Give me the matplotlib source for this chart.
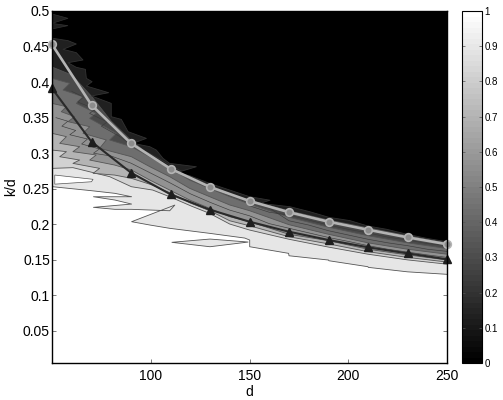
import numpy as np
import matplotlib
matplotlib.use("Agg")
import matplotlib.pyplot as plt
from matplotlib.cm import ScalarMappable
from matplotlib.colors import Normalize

plt.rcParams['font.family'] = ['Liberation Sans', 'DejaVu Sans']

# Measured curves
d_curve = [50, 70, 90, 110, 130, 150, 170, 190, 210, 230, 250]
k_upper = [0.453, 0.3678, 0.3139, 0.2782, 0.2525, 0.2328, 0.2170, 0.2037, 0.1924, 0.1817, 0.172]
k_lower = [0.3912, 0.3162, 0.2726, 0.2422, 0.2205, 0.2037, 0.1896, 0.178, 0.1677, 0.1592, 0.1508]

# Contour levels: each is a path (d, k/d); the surface is darker above it
d_l1 = [50, 70, 81.8, 90.3, 71, 81.8, 90.3, 71, 81.8, 90.3, 109.6, 112.2, 90.3, 99.6, 109.6, 129.9,
        147.6, 150.1, 150.1, 169.8, 170, 190, 190.2, 210, 210.1, 230, 250]
k_l1 = [.2530, .2473, .2436, .2388, .2388, .2342, .2285, .2239, .2211, .2211, .2191, .2271, .2037, .1990,
        .1944, .1873, .1807, .1779, .1685, .1592, .1558, .1498, .1488, .1404, .1395, .1332, .1297]
d_l2 = [50, 60.6, 79.2, 90.2, 101, 109.6, 120.5, 129.8, 140, 150, 170, 190, 210, 230, 250]
k_l2 = [.2787, .2797, .2670, .2529, .2482, .2388, .2257, .2154, .2004, .1920, .1790, .1680, .1580, .1500, .1440]
d_l2b = [50, 57.3, 53.9, 64, 60.6, 74.1, 70.8, 81.7, 90.2, 100, 110, 120, 130, 140, 150, 170, 190, 210, 230, 250]
k_l2b = [.3045, .3022, .2951, .2904, .2857, .2787, .2717, .2693, .2647, .2560, .2440, .2300, .2190, .2050, .1980,
         .1825, .1725, .1615, .1535, .1470]
d_l3 = [50, 57.3, 53.9, 64, 60.6, 72.4, 69.1, 81.7, 90.2, 99.5, 109.6, 119.7, 129.8, 140, 150, 170, 190, 210, 230, 250]
k_l3 = [.328, .3233, .3139, .3092, .3022, .2975, .2904, .2834, .2764, .2623, .2482, .2342, .2225, .2107, .2037,
        .1860, .1770, .1650, .1570, .1500]
d_l4 = [50, 57.3, 54.7, 61.5, 58.1, 69.1, 65.7, 77.5, 74.1, 90.2, 99.5, 109.6, 119.7, 129.8, 140, 150, 170, 190, 210, 230, 250]
k_l4 = [.3701, .3655, .3584, .3514, .3444, .3373, .3280, .3186, .3069, .2951, .2811, .2670, .2506, .2389, .2272,
        .2192, .1995, .1860, .1740, .1650, .1580]
d_l5 = [50, 59, 55.6, 65.7, 62.3, 72.4, 69.1, 82.6, 79.2, 90.2, 99.5, 109.6, 119.7, 129.8, 140, 150, 170, 190, 210, 230, 250]
k_l5 = [.4053, .3983, .3889, .3795, .3701, .3561, .3490, .3280, .3186, .3092, .2951, .2787, .2623, .2506, .2389,
        .2286, .2100, .1960, .1840, .1740, .1660]
d_l6 = [50, 60, 70, 80, 90, 100, 110, 120, 130, 140, 150, 170, 190, 210, 230, 250]
k_l6 = [.4212, .4100, .3800, .3450, .3180, .2960, .2790, .2640, .2530, .2420, .2340, .2190, .2060, .1950, .1840, .1740]
d_l7 = [50.5, 58.1, 62.3, 55.6, 62.3, 65.7, 58.1, 62.3, 66.9, 67.4, 70.3, 67.4, 78.7, 70, 80, 80, 85.1, 88.5,
        97.8, 91, 99.5, 102.8, 106.2, 109.6, 123.1, 113, 119.7, 129.8, 140, 150, 160.4, 155.3, 170.5, 180.6, 190.3,
        200.9, 210, 219.5, 230, 239.7, 250]
k_l7 = [.4616, .4583, .4536, .4461, .4414, .4311, .4273, .4208, .4180, .4053, .4006, .3945, .3851, .3805, .3701,
        .3514, .3476, .3303, .3209, .3139, .3092, .3045, .2928, .2857, .2810, .2726, .2684, .2576, .2482, .2389,
        .2339, .2295, .2248, .2177, .2098, .2052, .1976, .1930, .1859, .1803, .1755]
level_grey = ['#e6e6e6', '#d2d2d2', '#b4b4b4', '#929292', '#6e6e6e', '#4a4a4a', '#202020', '#000000']

# Thin contour streaks inside the transition band
d_tex1 = [60, 66, 63, 72, 69, 78, 75, 84, 90, 100, 110, 120, 130, 140, 150, 160, 170, 180, 190, 200, 210, 220, 230, 240, 250]
k_tex1 = [.3870, .3790, .3720, .3620, .3560, .3440, .3380, .3240, .3120, .2990, .2830, .2680, .2550, .2430, .2320,
          .2230, .2050, .1990, .1910, .1850, .1790, .1740, .1700, .1650, .1620]
d_tex2 = [52, 58, 55, 62, 59, 68, 65, 74, 71, 80, 90, 100, 110, 120, 130, 140, 150, 160, 170, 180, 190, 200, 210, 220, 230, 240, 250]
k_tex2 = [.3500, .3450, .3380, .3320, .3260, .3200, .3130, .3060, .3000, .2960, .2860, .2720, .2580, .2430, .2310,
          .2200, .2120, .2010, .1945, .1880, .1815, .1760, .1700, .1650, .1610, .1570, .1535]
d_tex3 = [150, 160, 170, 180, 190, 200, 210, 220, 230, 240, 250]
k_tex3 = [.2260, .2170, .2130, .2060, .1990, .1930, .1880, .1820, .1780, .1730, .1700]

# Isolated patches
d_white = [51.4, 70.8, 70, 51.4]
k_white = [.2693, .2633, .2599, .2565]
d_diamond = [110.6, 130, 149.4, 130]
k_diamond = [.1747, .1793, .1751, .1685]
d_spike1 = [50, 58.1, 50]
k_spike1 = [.4958, .4897, .4826]
d_spike2 = [50, 58.1, 50]
k_spike2 = [.4826, .4794, .4747]

x_ticks = [100, 150, 200, 250]
y_ticks = [0.05, 0.1, 0.15, 0.2, 0.25, 0.3, 0.35, 0.4, 0.45, 0.5]
y_labels = ['0.05', '0.1', '0.15', '0.2', '0.25', '0.3', '0.35', '0.4', '0.45', '0.5']
cb_ticks = [0, 0.1, 0.2, 0.3, 0.4, 0.5, 0.6, 0.7, 0.8, 0.9, 1]
cb_labels = ['0', '0.1', '0.2', '0.3', '0.4', '0.5', '0.6', '0.7', '0.8', '0.9', '1']

W, H = 503, 400
fig = plt.figure(figsize=(W / 100, H / 100), dpi=100)
ax = fig.add_axes([52 / W, 1 - 363 / H, 395 / W, 352 / H])
XMIN, XMAX, YMIN, YMAX = 50, 250, 0.005, 0.5
ax.set_xlim(XMIN, XMAX)
ax.set_ylim(YMIN, YMAX)

edge = '#555555'
ax.fill(d_diamond, k_diamond, facecolor='#e6e6e6', edgecolor=edge, lw=0.6, zorder=1)
levels = [(d_l1, k_l1), (d_l2, k_l2), (d_l2b, k_l2b), (d_l3, k_l3), (d_l4, k_l4), (d_l5, k_l5), (d_l6, k_l6), (d_l7, k_l7)]
for i, ((dd, kk), g) in enumerate(zip(levels, level_grey)):
    xs = [XMIN] + list(dd) + [XMAX, XMAX, XMIN]
    ys = [kk[0]] + list(kk) + [kk[-1], YMAX, YMAX]
    ax.fill(xs, ys, facecolor=g, edgecolor='none', zorder=2 + i)
    ax.plot(dd, kk, color=edge if i < 7 else '#333333', lw=0.6, zorder=2 + i)
    if i == 0:
        ax.fill(d_white, k_white, facecolor='white', edgecolor=edge, lw=0.5, zorder=2.5)
for dd, kk in [(d_tex1, k_tex1), (d_tex2, k_tex2), (d_tex3, k_tex3)]:
    ax.plot(dd, kk, color='#3a3a3a', lw=0.45, zorder=8.5)
ax.fill(d_spike1, k_spike1, facecolor='#202020', edgecolor='#333333', lw=0.5, zorder=11)
ax.fill(d_spike2, k_spike2, facecolor='#202020', edgecolor='#333333', lw=0.5, zorder=11)

ax.plot(d_curve, k_lower, color='#2a2a2a', lw=1.5, marker='^', ms=6, mfc='#1e1e1e', mec='#1e1e1e',
        clip_on=False, zorder=20)
ax.plot(d_curve, k_upper, color='#b4b4b4', lw=1.9, marker='o', ms=5.5, mfc='#8c8c8c', mec='#b4b4b4', mew=1.2,
        clip_on=False, zorder=21)

ax.set_xticks(x_ticks)
ax.set_yticks(y_ticks)
ax.set_yticklabels(y_labels)
ax.tick_params(direction='in', length=3, width=0.6, top=True, right=True, labelsize=10, pad=1.5, color='#666666')
ax.tick_params(axis='x', pad=4)
for s in ax.spines.values():
    s.set_linewidth(1.0)
    s.set_zorder(30)
ax.set_xlabel('d', fontsize=10, labelpad=1.5)
ax.set_ylabel('k/d', fontsize=10, labelpad=3)

cax = fig.add_axes([462 / W, 1 - 363 / H, 20 / W, 352 / H])
cb = fig.colorbar(ScalarMappable(Normalize(0, 1), plt.get_cmap('gray', 64)), cax=cax)
cb.set_ticks(cb_ticks)
cb.set_ticklabels(cb_labels)
cax.tick_params(direction='in', length=2, width=0.5, left=True, right=True, labelsize=7, pad=2, color='#555555')
cb.outline.set_linewidth(0.8)

fig.savefig('out.png', dpi=100)
